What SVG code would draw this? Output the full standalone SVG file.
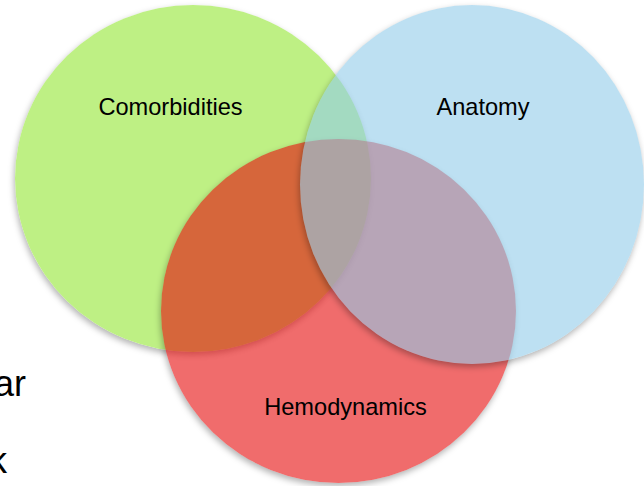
<svg xmlns="http://www.w3.org/2000/svg" width="644" height="486" viewBox="0 0 644 486">
<defs>
<filter id="sh" x="-10%" y="-10%" width="120%" height="125%" color-interpolation-filters="sRGB">
<feGaussianBlur in="SourceAlpha" stdDeviation="3"/>
<feOffset dx="-1" dy="3" result="b"/>
<feComposite in="b" in2="SourceAlpha" operator="out" result="o"/>
<feColorMatrix in="o" type="matrix" values="0 0 0 0 0  0 0 0 0 0  0 0 0 0 0  0 0 0 0.3 0"/>
</filter>
</defs>
<style>
.lbl{font-family:"Liberation Sans",Arial,sans-serif;font-size:23.6px;fill:#000;text-anchor:middle}
.side{font-family:"Liberation Sans",Arial,sans-serif;font-size:36px;fill:#000;text-anchor:end}
.shadow{fill:#000;filter:url(#sh)}
</style>
<rect width="644" height="486" fill="#fff"/>
<text class="side" x="26" y="396">ar</text>
<text class="side" x="7" y="473">k</text>
<g id="comorbidities">
<ellipse class="shadow" cx="193" cy="178.5" rx="178" ry="173.5"/>
<ellipse cx="193" cy="178.5" rx="178" ry="173.5" fill="rgb(190,240,132)"/>
</g>
<g id="hemodynamics">
<ellipse class="shadow" cx="338.5" cy="311" rx="177.5" ry="172"/>
<ellipse cx="338.5" cy="311" rx="177.5" ry="172" fill="rgb(230,10,10)" fill-opacity="0.6"/>
</g>
<g id="anatomy">
<ellipse class="shadow" cx="472" cy="184.5" rx="172" ry="179.5"/>
<ellipse cx="472" cy="184.5" rx="172" ry="179.5" fill="rgb(145,203,233)" fill-opacity="0.6"/>
</g>
<g id="connectors"></g>
<g id="labels">
<text class="lbl" x="170.5" y="115">Comorbidities</text>
<text class="lbl" x="483" y="115">Anatomy</text>
<text class="lbl" x="345.5" y="415">Hemodynamics</text>
</g>
</svg>
